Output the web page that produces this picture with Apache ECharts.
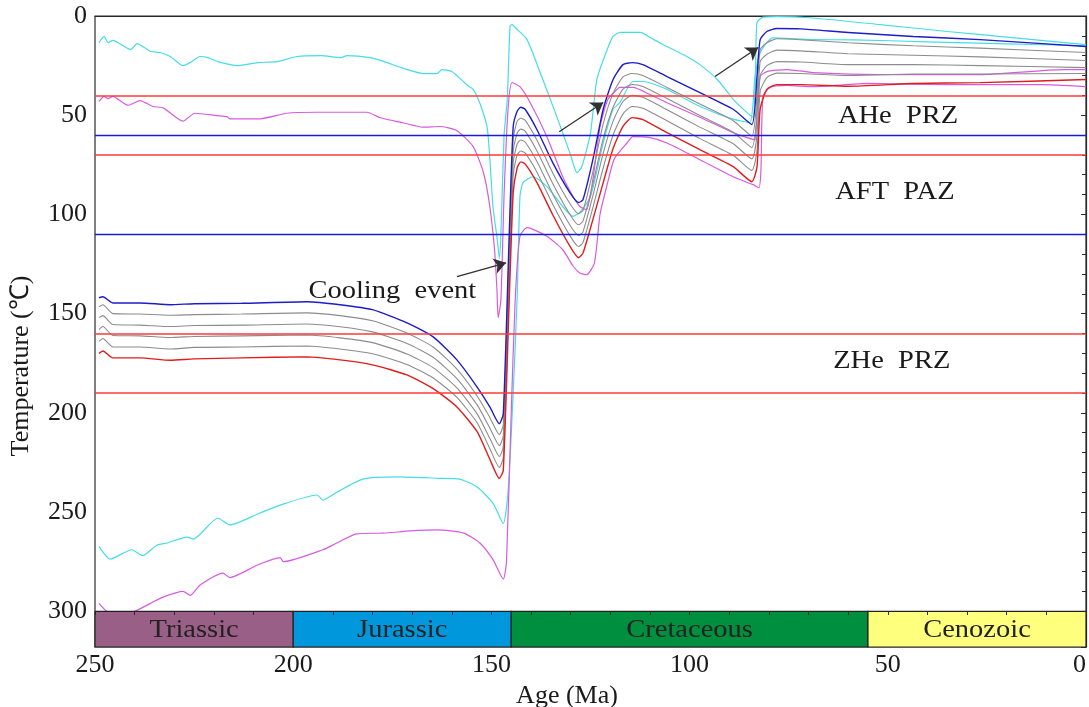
<!DOCTYPE html>
<html>
<head>
<meta charset="utf-8">
<script src="https://cdn.jsdelivr.net/npm/echarts/dist/echarts.min.js"></script>
<style>html,body{margin:0;padding:0;background:#fff}#c{width:1089px;height:707px}</style>
</head>
<body>
<div id="c"></div>
<script>
// ---- data ----
const xTicks = [250, 200, 150, 100, 50, 0];
const yTicks = [0, 50, 100, 150, 200, 250, 300];

const periodNames = ['Triassic', 'Jurassic', 'Cretaceous', 'Cenozoic'];
const periodStart = [250, 200, 145, 55];
const periodEnd = [200, 145, 55, 0];
const periodColors = ['#9a5f86', '#0097dc', '#008f3e', '#ffff7e'];

const zoneTemps = [40, 60, 70, 110, 160, 190];
const zoneColors = ['#ff3a3a', '#1a1ad8', '#ff3a3a', '#1a1ad8', '#ff3a3a', '#ff3a3a'];

const zoneLabels = ['AHe  PRZ', 'AFT  PAZ', 'ZHe  PRZ', 'Cooling  event'];
const zoneLabelAge = [47.4, 48.2, 49, 175];
const zoneLabelTemp = [50.7, 89, 174.3, 139];

const arrowFrom = [[158.7, 131.4], [132.9, 58.3], [93.6, 30.5]];
const arrowTo = [[146.3, 124.4], [121.8, 43.6], [82.7, 15.9]];

const cyanUpper = [[249,13.4],[247.7,10.3],[246.7,13.4],[245.5,12.3],[241,16.9],[239.4,13.9],[236,17.9],[233.6,18.4],[231,20.4],[227.8,25],[226,23.5],[223.5,20.4],[221.5,21],[219,23],[214,25],[209,23.5],[204,23],[199,20.4],[193,20],[188,21],[186.4,20],[180.6,21],[177,23],[172,26.5],[167,29],[163.7,29],[162.5,27],[160,28],[156,35],[154.6,37],[152.9,44],[151,57],[149.6,96],[148.5,113],[148,122],[147.6,110],[146.8,60],[146,42],[145.3,5],[144.8,4.3],[143.5,6.8],[141,11.9],[137.7,28.5],[133.5,50.7],[130.2,69],[128.4,79],[127.2,76],[125,59],[123.4,32],[120.8,17],[119.3,10.3],[117.5,8.3],[112.5,8.3],[109,11.9],[105.7,15.4],[100.7,20.4],[97.4,24.5],[93,32],[89,42],[85.5,48.7],[84,51],[83.4,30],[83,3.3],[81.5,0.6],[78,0.3],[68.9,1],[52,4.3],[35,7.8],[18,11],[0,14.4]];

const cyanLower = [[249,267.3],[246.2,273.7],[240.7,269],[238,272],[234.4,266.7],[231.8,265.6],[226.8,262.6],[225.2,263.6],[219,253],[216,256.5],[208.4,250.5],[203.3,246.5],[194,241.4],[192.5,244],[189,240],[182.4,233.4],[173.8,232.3],[163,233],[158,233.4],[153.6,237.4],[149.6,245.5],[147,255.8],[145.8,240],[144.5,190],[143.5,141.5],[142.8,91],[142,84],[139.5,81],[136,86],[132,96],[129.4,101],[127.7,99],[125,91],[121.8,64],[119.3,47],[117.6,43.7],[114.3,33],[111.8,33],[105.7,37],[97.4,45.6],[89,52],[84.8,53.7],[83.5,30.5],[82.2,18.4],[79,11],[68.9,11.9],[58.8,12],[40,13],[20,14],[0,15]];

const magentaUpper = [[249,43],[247.7,40.5],[246.7,41.7],[245.5,40.5],[241.7,45],[238.6,42.6],[235.4,45.6],[232.8,46.3],[227.8,53],[224.8,49],[219.2,50.2],[216.7,50.7],[216,51.8],[208.4,51.8],[201.6,49],[194,48.5],[181.4,48.5],[178,51.3],[172.3,53.8],[167.3,56],[163,55.7],[158.7,57.8],[154.6,65.8],[152,79],[150.4,96],[149.2,117.8],[148.6,138],[148.3,152],[147.6,143],[146.8,90],[145.8,47],[144.8,33.6],[142.8,35.6],[140.2,43.7],[136,60.8],[132,81],[129.4,91],[127.7,96],[126,97.6],[124.3,81],[122.6,55.7],[120.6,42],[118.3,37],[117.6,36],[114.3,36],[110,39.6],[105.7,43.7],[97.4,51],[89,58.8],[85.5,61.3],[83.5,62.3],[83,47],[82.2,30.5],[80.5,28],[75.4,27],[68.9,28.5],[52,29.5],[26.7,29.5],[5.8,27],[0,27]];

const magentaLower = [[249,296],[247,300],[244,301],[240,300],[236,296],[233,293],[227.8,290],[226,292],[223.5,286.8],[217.7,280.8],[216,283],[209,276.7],[203.3,273],[202.5,275],[192.5,269],[189,265.6],[184,261],[177.3,260.6],[170.5,259.5],[163.7,259],[157,260.6],[152.9,265.6],[149.6,274],[147,283.8],[146.2,275],[145,200],[144,143],[142.8,111],[141,106.7],[136,111],[132,117.8],[129.4,126],[127.7,129.5],[126,130.4],[124,124.4],[122.6,100],[120.8,85],[119,72],[115.8,64],[114.3,60.8],[110,61.3],[105.7,64],[97.4,72.4],[89,81],[84,85],[82.5,86.6],[82,77.4],[81.5,40.6],[79.7,36],[75.4,35],[69,35.6],[55,34],[35,34.6],[11.6,34.6],[0,35.6]];

const bundleAge = [249, 248, 245.5, 238.6, 231, 225, 213, 196.5, 188.2, 180, 171.3, 164.7, 158.7, 153.6, 150.4, 148, 147, 145.5, 144.5, 143.5, 142.6, 141.5, 138.5, 134.5, 130.2, 128, 126.9, 124.4, 121.8, 119.3, 116.8, 114.5, 111.8, 105.7, 97.4, 89, 84.3, 83, 82.2, 80.5, 78, 72, 60, 43.6, 26.7, 0];
const blueTemp = [142, 141.5, 144.6, 144.6, 145.5, 145, 144.8, 144, 145.5, 148, 154.6, 161.7, 173.3, 187, 197, 205.5, 200.5, 110, 55.7, 48, 46, 47, 57.3, 74, 89, 94, 92.6, 72.4, 47, 32, 24.5, 23.5, 24.5, 30.5, 38.6, 47, 54.7, 30.5, 11.9, 7.8, 6.3, 6.5, 8.3, 10.3, 11.9, 15.4];
const gray1Temp = [146.5, 145.5, 150, 150.2, 150.8, 150.5, 150.2, 149.6, 151, 153.6, 159.8, 166.8, 178, 191.5, 202.3, 211, 206, 118, 62, 53, 51.5, 52.5, 62.6, 79.2, 94.5, 99.6, 98, 78.5, 54.4, 39, 30.7, 29, 30, 36, 44.4, 52.8, 60.5, 40, 17, 13.5, 11.5, 12, 13.5, 15, 16.2, 18.4];
const gray2Temp = [152, 151, 155.5, 155.8, 156.5, 156, 155.8, 155.2, 156.6, 159.2, 165, 172, 182.8, 196, 207.6, 216.5, 211.5, 125, 68, 59, 57, 58, 68, 84.5, 100, 105.2, 103.4, 84.6, 61.8, 46, 36.9, 34.5, 35.5, 41.6, 50.2, 58.6, 66.3, 50, 23, 19.3, 17.2, 17.6, 19, 19.8, 20.6, 22.4];
const gray3Temp = [158, 156.5, 161, 161.2, 162, 161.5, 161.2, 160.8, 162.2, 164.6, 170.3, 177.2, 187.4, 200.5, 212.8, 222, 217, 131, 74, 64.5, 62.5, 63.5, 73.3, 89.8, 105.3, 110.6, 108.8, 90.6, 69.2, 53, 43.1, 40, 41, 47.2, 56, 64.4, 72, 60, 30, 25, 23, 23.2, 24.5, 24.5, 25, 26];
const gray4Temp = [164, 162.5, 166.8, 166.8, 167.8, 167, 166.8, 166.3, 167.8, 170.2, 175.6, 182.4, 192.2, 205, 218, 227.5, 222.5, 137, 80, 70, 68, 69, 78.7, 95, 110.7, 116.2, 114.2, 96.6, 76.6, 60, 49.3, 45.6, 46.5, 52.8, 61.8, 70.2, 77.8, 68, 38, 31, 28.8, 29, 30, 29.2, 29.2, 29];
const redTemp = [170, 168.8, 172.3, 172.3, 173.5, 172.8, 172.3, 171.8, 173.3, 175.8, 180.9, 187.8, 197, 209.5, 223.4, 233, 229, 143, 89, 76.5, 73.5, 74.5, 84, 100.3, 116, 121.8, 119.5, 102.6, 84, 66.8, 55.6, 51.2, 52.2, 58.8, 67.4, 75.9, 83.5, 76, 47, 37, 34.6, 34.6, 35.4, 34, 33.6, 32];

// ---- chart ----
const FONT = '"Liberation Serif", "Times New Roman", serif';
const zip = (ages, temps) => ages.map((a, i) => [a, temps[i]]);

function lineSeries(name, data, color, width, z) {
  return {
    name, type: 'line', data, showSymbol: false, smooth: 0.2,
    lineStyle: { color, width }, z: z || 2, silent: true, animation: false
  };
}

const chart = echarts.init(document.getElementById('c'), null, { renderer: 'canvas' });

const option = {
  animation: false,
  backgroundColor: '#fff',
  grid: { left: 95, right: 3, top: 16, bottom: 60, containLabel: false, outerBoundsMode: 'none',
          show: true, borderColor: '#2a2a2a', borderWidth: 1.2 },
  xAxis: [
    {
      type: 'value', min: 0, max: 250, inverse: true, interval: 50,
      position: 'bottom',
      axisLine: { show: true, lineStyle: { color: '#2a2a2a', width: 1.2 } },
      axisTick: { show: false },
      splitLine: { show: false },
      axisLabel: { margin: 5, fontFamily: FONT, fontSize: 26, color: '#1a1a1a', alignMinLabel: 'right',
                   formatter: v => xTicks.includes(v) ? String(v) : '' },
      name: 'Age (Ma)', nameLocation: 'middle', nameGap: 29,
      nameTextStyle: { fontFamily: FONT, fontSize: 26, color: '#1a1a1a', padding: [0, 47, 0, 0] }
    },
    {
      type: 'value', min: 0, max: 250, inverse: true, interval: 10,
      position: 'bottom', offset: -36, z: 10,
      axisLine: { show: false },
      axisTick: { show: true, length: 4, lineStyle: { color: '#2a2a2a', width: 1 } },
      axisLabel: { show: false },
      splitLine: { show: false }
    }
  ],
  yAxis: {
    type: 'value', min: 0, max: 318, inverse: true, interval: 50,
    axisLine: { show: true, lineStyle: { color: '#2a2a2a', width: 1.2 } },
    axisTick: { show: true, length: 5, lineStyle: { color: '#2a2a2a' } },
    minorTick: { show: true, splitNumber: 5, length: 4, lineStyle: { color: '#2a2a2a' } },
    splitLine: { show: false },
    axisLabel: { margin: 8, fontFamily: FONT, fontSize: 26, color: '#1a1a1a',
                 formatter: v => yTicks.includes(v) ? String(v) : '' },
    name: 'Temperature (℃)', nameLocation: 'middle', nameRotate: 90, nameGap: 61,
    nameTextStyle: { fontFamily: FONT, fontSize: 26, color: '#1a1a1a', padding: [0, 69, 0, 0] }
  },
  series: [
    lineSeries('cyanUpper', cyanUpper, '#44dde6', 1.2),
    lineSeries('cyanLower', cyanLower, '#44dde6', 1.2),
    lineSeries('magentaUpper', magentaUpper, '#d75be0', 1.2),
    lineSeries('magentaLower', magentaLower, '#d75be0', 1.2),
    lineSeries('gray1', zip(bundleAge, gray1Temp), '#8c8c8c', 1.1),
    lineSeries('gray2', zip(bundleAge, gray2Temp), '#8c8c8c', 1.1),
    lineSeries('gray3', zip(bundleAge, gray3Temp), '#8c8c8c', 1.1),
    lineSeries('gray4', zip(bundleAge, gray4Temp), '#8c8c8c', 1.1),
    lineSeries('red', zip(bundleAge, redTemp), '#e01c1c', 1.4),
    lineSeries('blue', zip(bundleAge, blueTemp), '#1c1cc8', 1.4),
    {
      name: 'zones', type: 'line', data: [], z: 4, silent: true,
      markLine: {
        silent: true, symbol: 'none', animation: false, label: { show: false },
        data: zoneTemps.map((t, i) => ({
          yAxis: t,
          lineStyle: { color: zoneColors[i], width: zoneColors[i] === '#ff3a3a' ? 1.6 : 1.3, type: 'solid' }
        }))
      }
    },
    {
      name: 'arrows', type: 'line', data: [], z: 5, silent: true,
      markLine: {
        silent: true, animation: false, symbol: ['none', 'arrow'], symbolSize: 12,
        label: { show: false },
        lineStyle: { color: '#303030', width: 1.3, type: 'solid' },
        data: arrowFrom.map((f, i) => [{ coord: f }, { coord: arrowTo[i] }])
      }
    },
    {
      name: 'zoneText', type: 'custom', z: 6, silent: true,
      data: zoneLabels.map((t, i) => [zoneLabelAge[i], zoneLabelTemp[i]]),
      renderItem: (params, api) => {
        const p = api.coord([api.value(0), api.value(1)]);
        return {
          type: 'text', x: p[0], y: p[1], scaleX: 1.14,
          style: { text: zoneLabels[params.dataIndex], x: 0, y: 0, align: 'center', verticalAlign: 'middle',
                   font: '25px ' + FONT, fill: '#1a1a1a' }
        };
      }
    },
    {
      name: 'periods', type: 'custom', z: 3, silent: true, clip: false,
      data: periodNames.map((n, i) => [periodStart[i], periodEnd[i], 300, 318]),
      renderItem: (params, api) => {
        const p0 = api.coord([api.value(0), api.value(2)]);
        const p1 = api.coord([api.value(1), api.value(3)]);
        const x = Math.min(p0[0], p1[0]), y = Math.min(p0[1], p1[1]);
        const w = Math.abs(p1[0] - p0[0]), h = Math.abs(p1[1] - p0[1]);
        return {
          type: 'group',
          children: [
            { type: 'rect', shape: { x, y, width: w, height: h },
              style: { fill: periodColors[params.dataIndex], stroke: '#222', lineWidth: 1.2 } },
            { type: 'text', x: x + w / 2, y: y + h / 2 + 1, scaleX: 1.14,
              style: { text: periodNames[params.dataIndex], x: 0, y: 0,
                align: 'center', verticalAlign: 'middle', font: '25px ' + FONT, fill: '#222' } }
          ]
        };
      }
    }
  ]
};
chart.setOption(option);
</script>
</body>
</html>
